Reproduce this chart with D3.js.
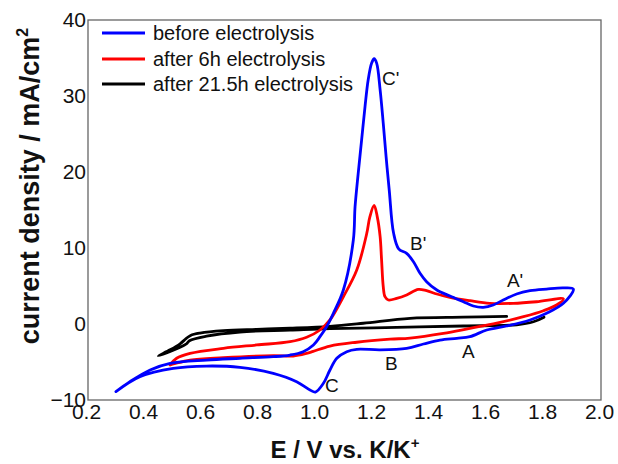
<!DOCTYPE html>
<html>
<head>
<meta charset="utf-8">
<script src="https://cdn.jsdelivr.net/npm/d3@7"></script>
<style>
  html, body { margin: 0; padding: 0; background: #fff; }
  svg { display: block; font-family: "Liberation Sans", Arial, sans-serif; }
</style>
</head>
<body>
<svg id="chart" width="618" height="464"></svg>
<script>
// ---- data ----
const xTicks = [0.2, 0.4, 0.6, 0.8, 1.0, 1.2, 1.4, 1.6, 1.8, 2.0];
const yTicks = [-10, 0, 10, 20, 30, 40];
const seriesNames = ["before electrolysis", "after 6h electrolysis", "after 21.5h electrolysis"];

// before electrolysis (closed loop)
const blueE = [0.298, 0.382, 0.499, 0.616, 0.733, 0.850, 0.932, 0.979, 0.998, 1.026, 1.049, 1.073, 1.108, 1.143, 1.225, 1.318, 1.377, 1.435, 1.494, 1.540, 1.599, 1.669, 1.751, 1.809, 1.868, 1.903,
  1.868, 1.809, 1.751, 1.704, 1.657, 1.622, 1.587, 1.552, 1.517, 1.470, 1.424, 1.388, 1.365, 1.342, 1.318, 1.290, 1.272, 1.257, 1.246, 1.236, 1.225, 1.213, 1.204, 1.195, 1.183, 1.172, 1.160, 1.148, 1.137, 1.131, 1.096, 1.061, 1.037, 1.014, 0.991, 0.955, 0.909, 0.850, 0.733, 0.616, 0.488, 0.418, 0.347, 0.298];
const blueJ = [-8.9, -6.93, -5.83, -5.53, -5.70, -6.49, -7.59, -8.68, -8.95, -7.80, -6.05, -4.51, -3.64, -3.33, -3.4, -3.20, -2.63, -2.11, -1.88, -1.67, -0.79, -0.26, 0.53, 1.41, 2.72, 4.6,
  4.75, 4.6, 4.38, 3.95, 3.16, 2.5, 2.2, 2.37, 2.93, 3.68, 4.47, 5.57, 6.67, 8.2, 9.3, 9.9, 12.0, 17.6, 22.0, 26.4, 30.8, 34.3, 34.9, 34.3, 32.1, 28.6, 24.2, 19.8, 15.4, 11.05, 4.47, 1.41, -0.36, -1.67, -2.76, -3.64, -4.08, -4.30, -4.51, -4.74, -5.18, -6.05, -7.59, -8.9];

// after 6h electrolysis (closed loop)
const redE = [0.488, 0.511, 0.558, 0.675, 0.792, 0.909, 0.967, 1.014, 1.049, 1.096, 1.143, 1.178, 1.189, 1.204, 1.215, 1.225, 1.230, 1.236, 1.242, 1.254, 1.283, 1.318, 1.359, 1.388, 1.424, 1.470, 1.540, 1.610, 1.692, 1.774, 1.868,
  1.844, 1.798, 1.728, 1.634, 1.540, 1.447, 1.330, 1.260, 1.143, 1.049, 0.990, 0.967, 0.920, 0.850, 0.675, 0.558, 0.488];
const redJ = [-5.39, -4.51, -3.86, -3.20, -2.76, -2.33, -1.75, -0.79, 0.53, 3.59, 7.1, 11.9, 14.1, 15.6, 14.1, 11.5, 8.5, 4.9, 3.59, 3.16, 3.37, 3.82, 4.56, 4.38, 3.95, 3.51, 3.07, 2.72, 2.72, 2.93, 3.3,
  2.5, 1.75, 0.96, 0.1, -0.57, -1.23, -1.85, -2.0, -2.4, -2.9, -3.6, -3.86, -4.21, -4.17, -4.43, -4.74, -5.39];

// after 21.5h electrolysis (open trace)
const blackE = [1.669, 1.517, 1.330, 1.166, 1.049, 0.909, 0.792, 0.675, 0.593, 0.560, 0.545, 0.523, 0.488, 0.447,
  0.499, 0.534, 0.546, 0.556, 0.616, 0.733, 0.909, 1.049, 1.283, 1.517, 1.704, 1.763, 1.800];
const blackJ = [1.0, 0.9, 0.75, 0.1, -0.3, -0.55, -0.70, -0.88, -1.2, -1.5, -1.9, -2.6, -3.4, -4.2,
  -3.45, -2.85, -2.6, -2.2, -1.6, -1.05, -0.8, -0.6, -0.45, -0.26, -0.1, 0.3, 0.9];

const peakLabels = ["C'", "B'", "A'", "C", "B", "A"];
const peakE = [1.232, 1.33, 1.67, 1.032, 1.242, 1.512];
const peakJ = [31.45, 9.74, 4.87, -8.95, -6.05, -4.47];

// ---- layout ----
const svg = d3.select("#chart");
const L = 88, R = 601, T = 20, B = 400;
const x = d3.scaleLinear().domain([0.2, 2.0]).range([L, R]);
const y = d3.scaleLinear().domain([-10, 40]).range([B, T]);

// frame
svg.append("rect").attr("x", L).attr("y", T).attr("width", R - L).attr("height", B - T)
  .attr("fill", "none").attr("stroke", "#666").attr("stroke-width", 1.3);

// axes (labels only)
const xAxis = d3.axisBottom(x).tickValues(xTicks).tickFormat(d3.format(".1f")).tickSize(0).tickPadding(0);
const gx = svg.append("g").attr("transform", `translate(0,${B})`).call(xAxis);
gx.select(".domain").remove();
gx.selectAll("text").attr("font-size", 21).attr("fill", "#111").attr("dy", null).attr("y", 19).attr("dx", -2)
  .attr("font-family", "Liberation Sans, Arial, sans-serif");

const yAxis = d3.axisLeft(y).tickValues(yTicks).tickFormat(d3.format("d")).tickSize(0).tickPadding(2);
const gy = svg.append("g").attr("transform", `translate(${L},0)`).call(yAxis);
gy.select(".domain").remove();
gy.selectAll("text").attr("font-size", 21).attr("fill", "#111").attr("dy", "0.3em")
  .attr("font-family", "Liberation Sans, Arial, sans-serif");

// titles
const xt = svg.append("text").attr("x", 345).attr("y", 458).attr("text-anchor", "middle")
  .attr("font-size", 24).attr("font-weight", "bold").attr("fill", "#111");
xt.append("tspan").text("E / V vs. K/K");
xt.append("tspan").attr("font-size", 15).attr("dy", -10).text("+");

const yt = svg.append("text").attr("transform", "translate(39,186) rotate(-90)").attr("text-anchor", "middle")
  .attr("font-size", 27).attr("font-weight", "bold").attr("fill", "#111");
yt.append("tspan").text("current density / mA/cm");
yt.append("tspan").attr("font-size", 16).attr("dy", -11).text("2");

// curves
const line = d3.line().x(d => x(d[0])).y(d => y(d[1])).curve(d3.curveCatmullRom.alpha(0.5));
const series = [
  { E: blackE, J: blackJ, color: "#000000" },
  { E: redE, J: redJ, color: "#ff0000" },
  { E: blueE, J: blueJ, color: "#0000ff" }
];
series.forEach(s => {
  const pts = s.E.map((e, i) => [e, s.J[i]]);
  svg.append("path").attr("d", line(pts)).attr("fill", "none")
    .attr("stroke", s.color).attr("stroke-width", 2.8).attr("stroke-linejoin", "round").attr("stroke-linecap", "round");
});

// peak labels
peakLabels.forEach((t, i) => {
  svg.append("text").attr("x", x(peakE[i])).attr("y", y(peakJ[i])).attr("font-size", 19).attr("fill", "#111").text(t);
});

// legend
const legColors = ["#0000ff", "#ff0000", "#000000"];
const legY = [33, 59, 84];
seriesNames.forEach((n, i) => {
  svg.append("line").attr("x1", 102).attr("x2", 145).attr("y1", legY[i]).attr("y2", legY[i])
    .attr("stroke", legColors[i]).attr("stroke-width", 3);
  svg.append("text").attr("x", 153).attr("y", legY[i]).attr("dy", "0.35em").attr("font-size", 20).attr("fill", "#111").text(n);
});
</script>
</body>
</html>
